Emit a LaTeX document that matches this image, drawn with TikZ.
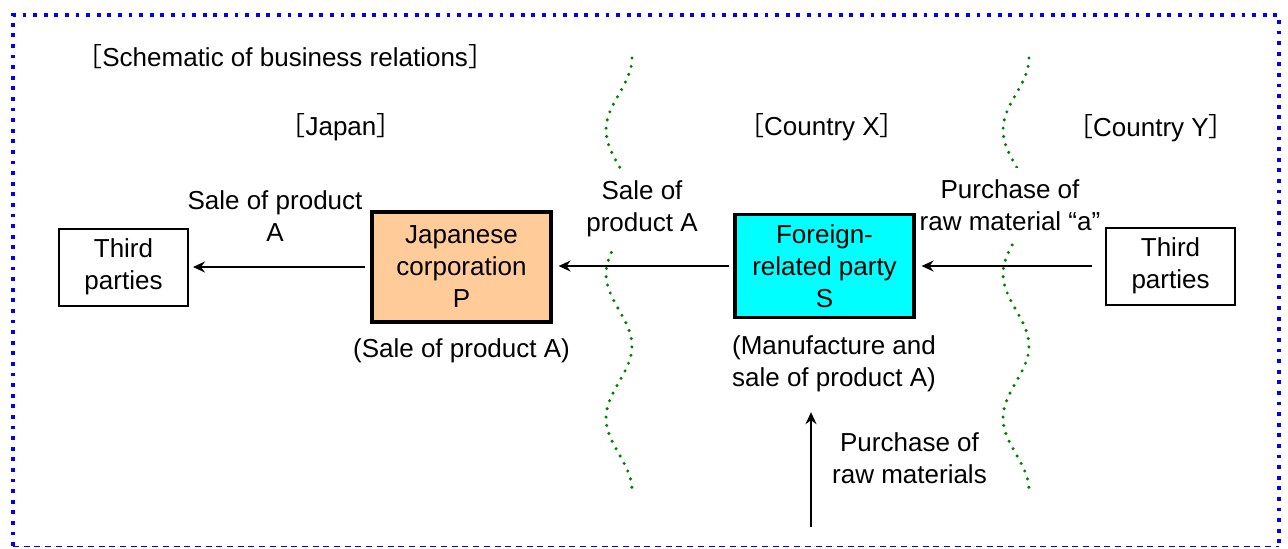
\documentclass[tikz,border=0pt]{standalone}
\usepackage{fontspec}
\setmainfont{Liberation Sans}
\newfontfamily\cjk{Noto Sans CJK JP}
\usetikzlibrary{arrows.meta, positioning}

\definecolor{orangefill}{HTML}{FFCC99}
\definecolor{cyanfill}{RGB}{0,255,255}
\newcommand{\regionname}[1]{{\cjk ［}#1{\cjk ］}}

\begin{document}
\begin{tikzpicture}[
		x=0.5pt, y=-0.5pt,
		font=\fontsize{13}{16}\selectfont,
		party/.style={draw, line width=1pt, minimum width=64.5pt, minimum height=38.5pt,
			align=center, inner sep=0pt},
		corp/.style={draw, line width=1.6pt, minimum width=89.5pt, align=center, inner sep=0pt},
		lbl/.style={align=center, inner sep=0pt},
		cover/.style={lbl, fill=white, inner xsep=2pt, inner ysep=6pt},
		arr/.style={-{Stealth[length=6pt, width=5.5pt, inset=2pt]}, line width=0.9pt},
		border/.style={blue, line width=1.9pt, dash pattern=on 1.9pt off 3.4pt},
		bottomline/.style={blue, line width=0.9pt, dash pattern=on 3pt off 2.35pt},
		divider/.style={green!50!black, line width=1.7pt, line cap=round, dash pattern=on 0pt off 4.2pt},
	]
		\useasboundingbox (0,0) rectangle (1288,548);

		% Frame
		\draw[border] (13,546) -- (13,15) -- (1279,15) -- (1279,546);
		\draw[bottomline] (13,546.5) -- (1279,546.5);

		% Country borders
		\draw[divider] plot[domain=58:490, samples=120, variable=\t] ({619+13*cos(2.5*(\t-58))}, \t);
		\draw[divider] plot[domain=58:490, samples=120, variable=\t] ({1016+13*cos(2.5*(\t-58))}, \t);

		% Headings
		\node[lbl, anchor=west] (title) at (76,57) {\regionname{Schematic of business relations}};
		\node[lbl] (japan) at (341,127) {\regionname{Japan}};
		\node[lbl] (cx) at (822,127) {\regionname{Country X}};
		\node[lbl] (cy) at (1151,128) {\regionname{Country Y}};

		% Flow labels
		\node[lbl] (lblL) at (275,216.5) {Sale of product\\A};
		\node[cover] (lblM) at (642,209) {Sale of\\product A};
		\node[cover] (lblR) at (1010,205.5) {Purchase of\\raw material “a”};
		\node[lbl] (lblB) at (909.5,458.5) {Purchase of\\raw materials};

		% Parties
		\node[party] (thirdL) at (123.5,267) {Third\\parties};
		\node[corp, fill=orangefill, minimum height=55pt] (jpcorp) at (461.5,267) {Japanese\\corporation\\P};
		\node[corp, fill=cyanfill, minimum height=51.5pt] (frgn) at (824.5,266) {Foreign-\\related party\\S};
		\node[party] (thirdR) at (1170.5,266) {Third\\parties};

		% Activities
		\node[lbl, below=7.5pt of jpcorp] (salenote) {(Sale of product A)};
		\node[lbl, below=8pt of frgn, xshift=4.75pt] (mfgnote) {(Manufacture and\\sale of product A)};

		% Arrows
		\draw[arr, shorten <=2.5pt, shorten >=2pt] (jpcorp.west) -- (jpcorp.west -| thirdL.east);
		\draw[arr, shorten <=2pt, shorten >=3pt] (frgn.west) -- (frgn.west -| jpcorp.east);
		\draw[arr, shorten <=6.5pt, shorten >=3pt] (thirdR.west) -- (thirdR.west -| frgn.east);
		\coordinate (rawsrc) at (811,527);
		\draw[arr, shorten >=10pt] (rawsrc) -- (rawsrc |- mfgnote.south);
	\end{tikzpicture}
\end{document}
